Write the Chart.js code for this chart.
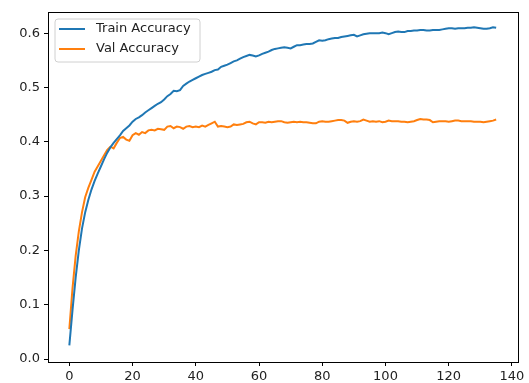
<!DOCTYPE html>
<html>
<head>
<meta charset="utf-8">
<script src="https://cdn.jsdelivr.net/npm/chart.js@4/dist/chart.umd.min.js"></script>
<style>
body { margin: 0; background: #fff; }
</style>
</head>
<body>
<canvas id="accChart" width="529" height="383"></canvas>
<script>
var trainAcc = [
    0.025, 0.09, 0.15, 0.20, 0.24, 0.27, 0.293, 0.312, 0.328, 0.342,
    0.355, 0.368, 0.38, 0.39, 0.398, 0.405, 0.412, 0.42, 0.425, 0.43,
    0.437, 0.442, 0.445, 0.449, 0.454, 0.458, 0.462, 0.466, 0.47, 0.473,
    0.478, 0.484, 0.488, 0.494, 0.493, 0.495, 0.503, 0.507, 0.511, 0.514,
    0.517, 0.52, 0.523, 0.525, 0.527, 0.529, 0.532, 0.533, 0.538, 0.54,
    0.542, 0.545, 0.548, 0.55, 0.553, 0.556, 0.558, 0.56, 0.559, 0.557,
    0.559, 0.562, 0.564, 0.566, 0.569, 0.571, 0.572, 0.573, 0.574, 0.573,
    0.572, 0.575, 0.578, 0.578, 0.579, 0.58, 0.58, 0.581, 0.584, 0.587,
    0.586, 0.587, 0.589, 0.59, 0.591, 0.591, 0.593, 0.594, 0.595, 0.596,
    0.597, 0.594, 0.596, 0.598, 0.599, 0.6, 0.6, 0.6, 0.6, 0.601,
    0.6, 0.598, 0.6, 0.602, 0.603, 0.602, 0.602, 0.604, 0.604, 0.605,
    0.605, 0.606, 0.606, 0.605, 0.605, 0.606, 0.606, 0.606, 0.607, 0.608,
    0.609, 0.609, 0.608, 0.609, 0.609, 0.609, 0.61, 0.61, 0.611, 0.61,
    0.609, 0.608, 0.608, 0.609, 0.611, 0.61
];

var valAcc = [
    0.055, 0.13, 0.19, 0.235, 0.27, 0.298, 0.315, 0.33, 0.345, 0.355,
    0.365, 0.375, 0.385, 0.391, 0.388, 0.398, 0.407, 0.409, 0.404, 0.402,
    0.412, 0.416, 0.413, 0.418, 0.416, 0.421, 0.422, 0.421, 0.424, 0.423,
    0.422, 0.428, 0.429, 0.425, 0.428, 0.427, 0.424, 0.428, 0.429, 0.427,
    0.428, 0.427, 0.43, 0.428, 0.431, 0.434, 0.437, 0.428, 0.429, 0.428,
    0.427, 0.428, 0.432, 0.431, 0.432, 0.433, 0.436, 0.437, 0.434, 0.432,
    0.436, 0.436, 0.435, 0.437, 0.436, 0.437, 0.438, 0.438, 0.436, 0.435,
    0.436, 0.437, 0.436, 0.437, 0.436, 0.436, 0.435, 0.434, 0.434, 0.437,
    0.438, 0.437, 0.437, 0.438, 0.439, 0.44, 0.44, 0.439, 0.435, 0.437,
    0.438, 0.437, 0.438, 0.441, 0.439, 0.437, 0.438, 0.437, 0.438, 0.436,
    0.437, 0.439, 0.438, 0.438, 0.438, 0.437, 0.437, 0.436, 0.437, 0.438,
    0.44, 0.442, 0.441, 0.441, 0.44, 0.436, 0.437, 0.438, 0.438, 0.438,
    0.437, 0.438, 0.439, 0.439, 0.438, 0.438, 0.438, 0.438, 0.437, 0.437,
    0.437, 0.436, 0.437, 0.438, 0.439, 0.441
];

var xTicks = [0, 20, 40, 60, 80, 100, 120, 140];
var yTicks = [0.0, 0.1, 0.2, 0.3, 0.4, 0.5, 0.6];
var seriesNames = ['Train Accuracy', 'Val Accuracy'];

function toPoints(values)
{
    return values.map(function(v, i) {
        return { x: i, y: v };
    });
}

// box round the plot, like the matplotlib spines
var frame = {
    id: 'frame',
    afterDatasetsDraw: function(chart) {
        var ctx = chart.ctx, a = chart.chartArea;
        ctx.save();
        ctx.strokeStyle = '#000';
        ctx.lineWidth = 1;
        ctx.strokeRect(Math.round(a.left) + 0.5, Math.round(a.top) + 0.5,
            Math.round(a.right - a.left), Math.round(a.bottom - a.top));
        ctx.restore();
    }
};

// legend drawn inside the plot, upper left
var insideLegend = {
    id: 'insideLegend',
    afterDraw: function(chart) {
        var ctx = chart.ctx, a = chart.chartArea;
        var x = a.left + 7, y = a.top + 7, w = 145, h = 43, r = 3;
        ctx.save();
        ctx.beginPath();
        ctx.moveTo(x + r, y);
        ctx.lineTo(x + w - r, y);
        ctx.quadraticCurveTo(x + w, y, x + w, y + r);
        ctx.lineTo(x + w, y + h - r);
        ctx.quadraticCurveTo(x + w, y + h, x + w - r, y + h);
        ctx.lineTo(x + r, y + h);
        ctx.quadraticCurveTo(x, y + h, x, y + h - r);
        ctx.lineTo(x, y + r);
        ctx.quadraticCurveTo(x, y, x + r, y);
        ctx.closePath();
        ctx.fillStyle = 'rgba(255,255,255,0.8)';
        ctx.fill();
        ctx.strokeStyle = '#d0d0d0';
        ctx.lineWidth = 1;
        ctx.stroke();

        ctx.font = '13px "DejaVu Sans"';
        ctx.textBaseline = 'middle';
        chart.data.datasets.forEach(function(ds, k) {
            var ly = y + 10 + k * 20;
            ctx.strokeStyle = ds.borderColor;
            ctx.lineWidth = 2;
            ctx.beginPath();
            ctx.moveTo(x + 4, ly);
            ctx.lineTo(x + 30, ly);
            ctx.stroke();
            ctx.fillStyle = '#222';
            ctx.fillText(ds.label, x + 41, ly);
        });
        ctx.restore();
    }
};

var ctx = document.getElementById('accChart').getContext('2d');

var myChart = new Chart(ctx, {
    type: 'line',
    data: {
        datasets: [
            {
                label: seriesNames[0],
                data: toPoints(trainAcc),
                borderColor: '#1f77b4',
                borderWidth: 2,
                pointRadius: 0,
                fill: false
            },
            {
                label: seriesNames[1],
                data: toPoints(valAcc),
                borderColor: '#ff7f0e',
                borderWidth: 2,
                pointRadius: 0,
                fill: false
            }
        ]
    },
    options: {
        responsive: false,
        animation: false,
        layout: {
            padding: { left: 0, right: 11.5, top: 12, bottom: 0 }
        },
        plugins: {
            legend: { display: false },
            tooltip: { enabled: false }
        },
        scales: {
            x: {
                type: 'linear',
                min: -6.75,
                max: 141.75,
                afterBuildTicks: function(scale) {
                    scale.ticks = xTicks.map(function(v) { return { value: v }; });
                },
                afterFit: function(scale) { scale.height = 21; },
                grid: {
                    drawOnChartArea: false,
                    color: '#000',
                    tickLength: 4,
                    tickColor: '#000'
                },
                border: { color: '#000' },
                ticks: {
                    color: '#222',
                    padding: 3,
                    maxRotation: 0,
                    font: { family: 'DejaVu Sans', size: 13 }
                }
            },
            y: {
                min: -0.0055,
                max: 0.639,
                afterBuildTicks: function(scale) {
                    scale.ticks = yTicks.map(function(v) { return { value: v }; });
                },
                afterFit: function(scale) { scale.width = 48; },
                grid: {
                    drawOnChartArea: false,
                    color: '#000',
                    tickLength: 4,
                    tickColor: '#000'
                },
                border: { color: '#000' },
                ticks: {
                    color: '#222',
                    padding: 4,
                    font: { family: 'DejaVu Sans', size: 13 },
                    callback: function(v) { return Number(v).toFixed(1); }
                }
            }
        }
    },
    plugins: [frame, insideLegend]
});
</script>
</body>
</html>
